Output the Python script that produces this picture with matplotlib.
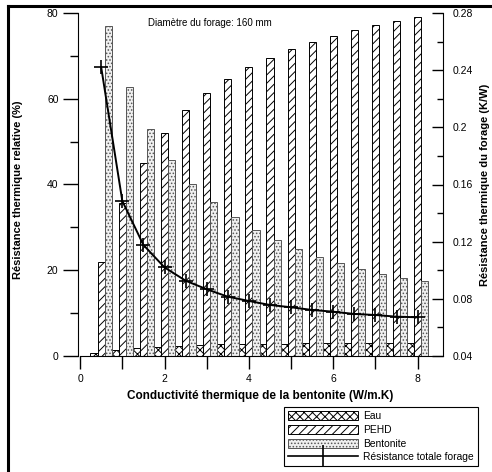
import matplotlib
matplotlib.use("Agg")
import matplotlib.pyplot as plt
from matplotlib.patches import Patch
from matplotlib.lines import Line2D

plt.rcParams['font.family'] = ['Liberation Sans', 'DejaVu Sans']
plt.rcParams['hatch.linewidth'] = 0.7

# conductivite de la bentonite (W/m.K)
k_bent = [0.5, 1.0, 1.5, 2.0, 2.5, 3.0, 3.5, 4.0, 4.5, 5.0, 5.5, 6.0, 6.5, 7.0, 7.5, 8.0]
# parts relatives (%)
eau = [0.8, 1.3, 1.8, 2.1, 2.3, 2.5, 2.7, 2.8, 2.9, 2.9, 3.0, 3.0, 3.0, 3.1, 3.1, 3.1]
pehd = [22.0, 35.6, 45.0, 52.0, 57.3, 61.3, 64.6, 67.4, 69.6, 71.6, 73.3, 74.7, 76.0, 77.1, 78.1, 79.0]
bentonite = [77.0, 62.7, 52.9, 45.6, 40.2, 35.9, 32.4, 29.5, 27.1, 25.0, 23.2, 21.7, 20.4, 19.2, 18.3, 17.4]
# resistance totale du forage (K/W)
r_tot = [0.242, 0.1485, 0.1177, 0.102, 0.0927, 0.0867, 0.0815, 0.0785, 0.0757,
         0.0741, 0.0722, 0.071, 0.0694, 0.0687, 0.0675, 0.0671]

fig = plt.figure(figsize=(4.92, 4.72), dpi=100)
ax = fig.add_axes([78/492, 1-356/472, (443-78)/492, (356-13)/472])

w = 0.17
xe = [x - w for x in k_bent]
xb = [x + w for x in k_bent]
ax.bar(xe, eau, width=w, color='white', edgecolor='black', hatch='xxxx', linewidth=0.7)
ax.bar(k_bent, pehd, width=w, color='white', edgecolor='black', hatch='////', linewidth=0.7)
ax.bar(xb, bentonite, width=w, color='#f0f0f0', edgecolor='#555555', hatch='.....', linewidth=0.7)

ax.set_xlim(-0.05, 8.6)
ax.set_ylim(0, 80)
ax.spines['top'].set_visible(False)
ax.spines['right'].set_visible(False)
ax.spines['bottom'].set_bounds(0, 8.6)
ax.set_yticks([0, 20, 40, 60, 80])
ax.set_yticks([10, 30, 50, 70], minor=True)
ax.tick_params(axis='y', which='major', direction='out', length=11, width=1, labelsize=7.5, pad=3)
ax.tick_params(axis='y', which='minor', direction='out', length=6, width=1)
ax.set_xticks([0, 1, 2, 3, 4, 5, 6, 7, 8])
ax.set_xticklabels(['0', '', '2', '', '4', '', '6', '', '8'])
ax.tick_params(axis='x', direction='out', length=9, width=1, labelsize=7.5, pad=4)

ax2 = ax.twinx()
ax2.plot(k_bent, r_tot, color='black', linewidth=1.4, marker='+', markersize=10, markeredgewidth=1.2)
ax2.set_ylim(0.04, 0.28)
ax2.set_yticks([0.04, 0.08, 0.12, 0.16, 0.2, 0.24, 0.28])
ax2.set_yticklabels(['0.04', '0.08', '0.12', '0.16', '0.2', '0.24', '0.28'])
ax2.set_yticks([0.06, 0.10, 0.14, 0.18, 0.22, 0.26], minor=True)
ax2.tick_params(axis='y', which='major', direction='in', length=8, width=1, labelsize=7.5, pad=7)
ax2.tick_params(axis='y', which='minor', direction='in', length=4, width=1)
for s in ['top', 'left', 'bottom']:
    ax2.spines[s].set_visible(False)

ax.text(0.36, 0.985, 'Diamètre du forage: 160 mm', transform=ax.transAxes,
        ha='center', va='top', fontsize=7)
ax.set_xlabel('Conductivité thermique de la bentonite (W/m.K)', fontsize=8.5,
              fontweight='bold', labelpad=4)
fig.text(18/492, 1-190/472, 'Résistance thermique relative (%)', rotation=90,
         ha='center', va='center', fontsize=8, fontweight='bold')
fig.text(485/492, 1-185/472, 'Résistance thermique du forage (K/W)', rotation=90,
         ha='center', va='center', fontsize=8, fontweight='bold')

handles = [Patch(facecolor='white', edgecolor='black', hatch='xxxx', linewidth=0.7),
           Patch(facecolor='white', edgecolor='black', hatch='////', linewidth=0.7),
           Patch(facecolor='#f0f0f0', edgecolor='#555555', hatch='.....', linewidth=0.7),
           Line2D([], [], color='black', linewidth=1.2, marker='|', markersize=16, markeredgewidth=1.2)]
labels = ['Eau', 'PEHD', 'Bentonite', 'Résistance totale forage']
leg = fig.legend(handles, labels, loc='upper left', bbox_to_anchor=(284/492, 1-407/472),
                 fontsize=7.4, fancybox=False, edgecolor='black', framealpha=1,
                 handlelength=6.8, handleheight=1.0, handletextpad=0.5,
                 labelspacing=0.35, borderpad=0.4, borderaxespad=0)
leg.get_frame().set_linewidth(0.8)

# cadre de la figure
fig.add_artist(Line2D([8/492, 1], [1-6/472, 1-6/472], color='black', linewidth=2.2, transform=fig.transFigure))
fig.add_artist(Line2D([8/492, 8/492], [0, 1-6/472], color='black', linewidth=2.2, transform=fig.transFigure))

fig.savefig('out.png', dpi=100)
